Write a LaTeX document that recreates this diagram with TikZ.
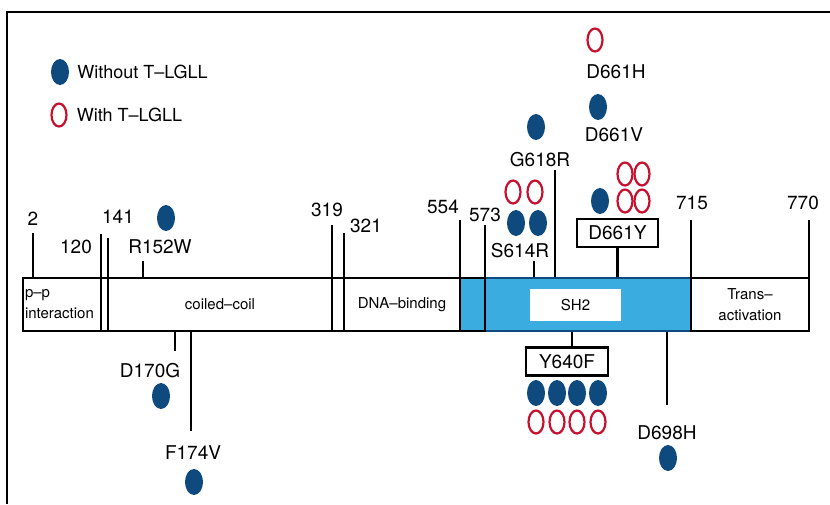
\documentclass[tikz,border=0pt]{standalone}
\usepackage{fontspec}
\setmainfont{TeX Gyre Heros}
\usetikzlibrary{positioning,shapes.geometric,calc}
\definecolor{dotblue}{RGB}{14,74,126}
\definecolor{ringred}{RGB}{200,16,46}
\definecolor{sh2blue}{RGB}{58,172,224}
\tikzset{
  protdom/.style = {shape=rectangle, draw, line width=2.8pt,
                    minimum height=53pt, inner sep=2pt, align=center,
                    font=\fontsize{15}{21}\selectfont},
  sh2dom/.style  = {protdom, fill=sh2blue},
  site/.style    = {inner sep=0pt, font=\fontsize{19}{21}\selectfont},
  sitebox/.style = {site, draw, line width=2.8pt, minimum height=28pt},
  leg/.style     = {inner sep=0pt, font=\fontsize{18}{20}\selectfont},
  wo/.style      = {shape=ellipse, fill=dotblue, inner sep=0pt,
                    minimum width=18pt, minimum height=26pt},
  wi/.style      = {shape=ellipse, draw=ringred, line width=2.2pt, inner sep=0pt,
                    minimum width=15pt, minimum height=23pt},
  tick/.style    = {line width=2.2pt}
}

\begin{document}
\begin{tikzpicture}[x=1pt,y=-1pt]
\useasboundingbox (0,0) rectangle (830,504);
\draw[line width=1.5pt] (830,12) -- (7,12) -- (7,504);

% legend
\node [wo] (kwo) at (60,72) {};
\node [leg, right=8pt of kwo] {Without T--LGLL};
\node [wi] (kwi) at (59,115) {};
\node [leg, right=9pt of kwi] {With T--LGLL};

% protein bar
\node [protdom, minimum width=786pt] (bar) at (416,304.5) {};
\node [protdom, minimum width=78pt, text width=74pt, align=left] (pp) at (62,304.5) {p--p\\interaction};
\node [protdom, minimum width=224pt] (coil) at (220,304.5) {coiled--coil};
\node [protdom, minimum width=116pt] (dna) at (402,304.5) {DNA--binding};
\node [sh2dom, draw=dotblue, minimum width=206pt] (sh2) at (588,304.5) {};
\node [sh2dom, minimum width=25pt] (link) at (472.5,304.5) {};
\node [protdom, fill=white, draw=none, minimum width=91pt, minimum height=32pt] (sh2lab) at (575.5,305) {SH2};
\node [protdom, minimum width=118pt] (trans) at (750,304.5) {Trans--\\activation};

% domain borders
\coordinate (t2) at (33,233);    \node [site] (n2) at (33,219) {2};
\coordinate (t120) at (101,234); \node [site] (n120) at (76,247) {120};
\coordinate (t141) at (108,238); \node [site] (n141) at (118,217) {141};
\coordinate (t319) at (332,225); \node [site] (n319) at (327,210) {319};
\coordinate (t321) at (344,233); \node [site] (n321) at (366,226) {321};
\coordinate (t554) at (460,220); \node [site] (n554) at (443,207) {554};
\coordinate (t573) at (485,225); \node [site] (n573) at (485,215) {573};
\coordinate (t715) at (691,220); \node [site] (n715) at (692,203) {715};
\coordinate (t770) at (809,220); \node [site] (n770) at (803,203) {770};
\foreach \t in {t2,t120,t141,t319,t321,t554,t573,t715,t770}
  \draw [tick] (\t) -- (\t |- bar.north);

% mutations above
\coordinate (tr152) at (143,261);
\node [site] (r152w) at (160,247) {R152W};
\node [wo] at (166,218) {};
\draw [tick] (tr152) -- (tr152 |- bar.north);

\coordinate (ts614) at (534,261);
\node [site] (s614r) at (520,251) {S614R};
\foreach \x in {516,538} \node [wo] at (\x,223) {};
\foreach \x in {513,535} \node [wi] at (\x,192) {};
\draw [tick] (ts614) -- (ts614 |- bar.north);

\coordinate (tg618) at (555,170);
\node [site] (g618r) at (540,160) {G618R};
\node [wo] at (536,127) {};
\draw [tick] (tg618) -- (tg618 |- bar.north);

\node [sitebox, minimum width=81pt] (d661y) at (617.5,233) {D661Y};
\node [wo] at (600,201) {};
\foreach \x in {625,642} \foreach \y in {174,201} \node [wi] at (\x,\y) {};
\draw [tick] (d661y.south) -- (d661y.south |- bar.north);

\node [site] (d661v) at (614,135) {D661V};
\node [wo] at (598,107) {};
\node [site] (d661h) at (616,72) {D661H};
\node [wi] at (595,40) {};

% mutations below
\coordinate (td170) at (175,351);
\node [site] (d170g) at (150,371) {D170G};
\node [wo] at (161,396) {};
\draw [tick] (td170 |- bar.south) -- (td170);

\coordinate (tf174) at (191,431);
\node [site] (f174v) at (193,453) {F174V};
\node [wo] at (194,482) {};
\draw [tick] (tf174 |- bar.south) -- (tf174);

\node [sitebox, minimum width=82pt] (y640f) at (567,361.5) {Y640F};
\coordinate (ty640) at (572,348);
\draw [tick] (ty640 |- bar.south) -- (ty640);
\foreach \x in {536,557,577,598} {
  \node [wo] at (\x,393) {};
  \node [wi] at (\x,422) {};
}

\coordinate (td698) at (667,405);
\node [site] (d698h) at (667,433) {D698H};
\node [wo] at (668,458) {};
\draw [tick] (td698 |- bar.south) -- (td698);
\end{tikzpicture}
\end{document}
